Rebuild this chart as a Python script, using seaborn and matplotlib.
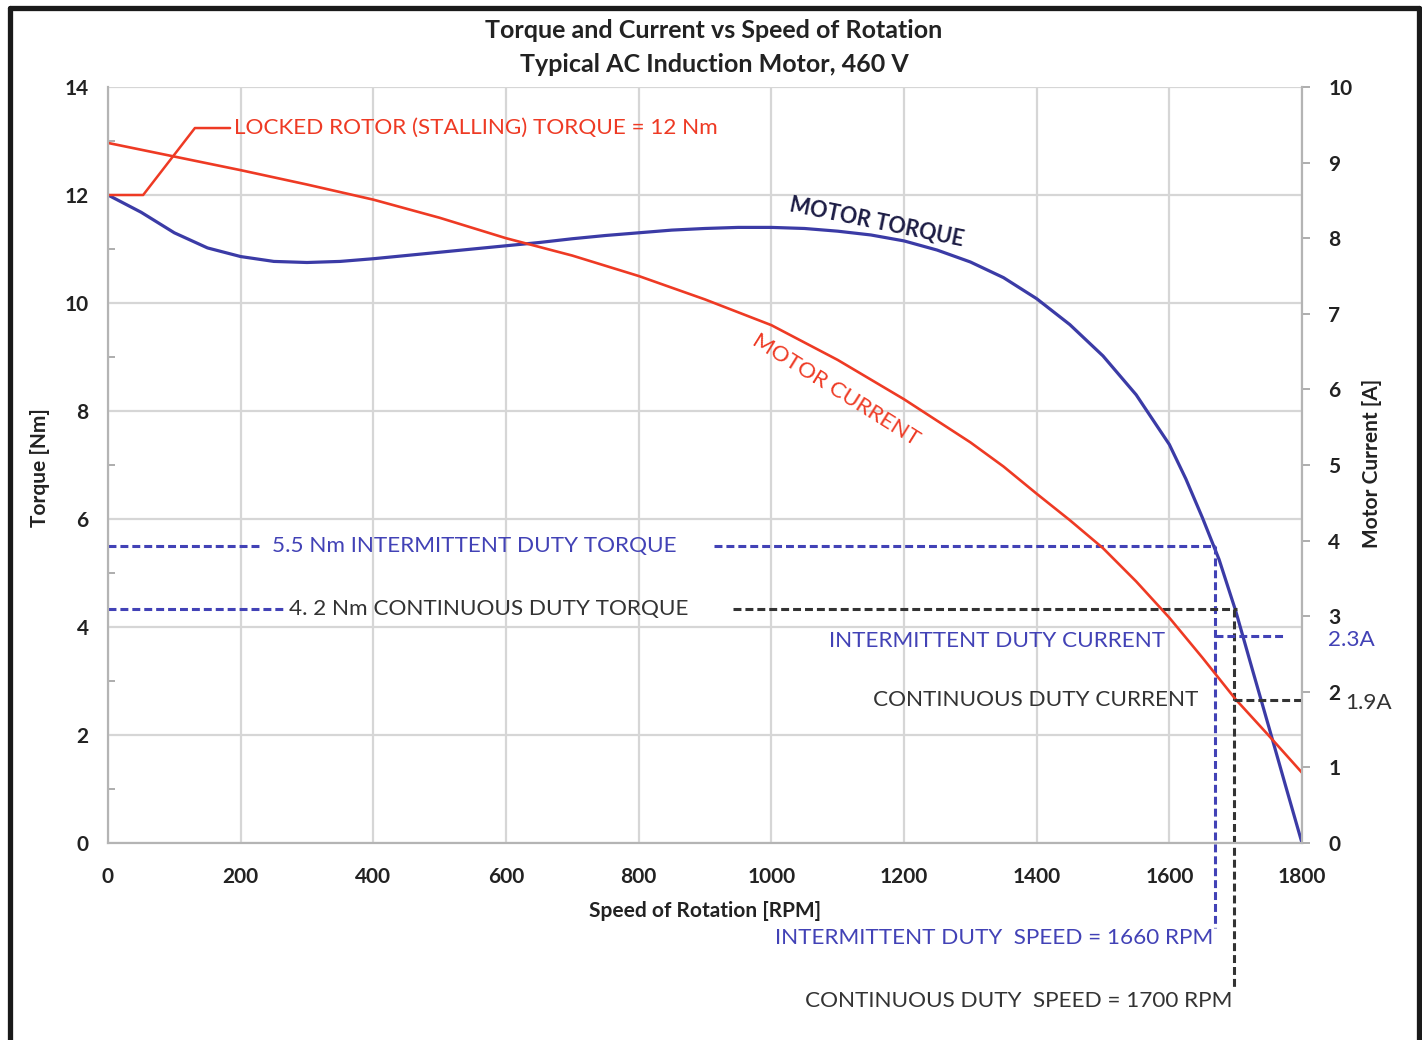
import matplotlib
matplotlib.use('Agg')
import matplotlib.pyplot as plt
import seaborn as sns
from matplotlib.lines import Line2D

# motor torque curve (left axis, Nm)
speed_torque = [0, 50, 100, 150, 200, 250, 300, 350, 400, 450, 500, 550, 600, 650, 700, 750,
                800, 850, 900, 950, 1000, 1050, 1100, 1150, 1200, 1250, 1300, 1350, 1400,
                1450, 1500, 1550, 1600, 1625, 1650, 1675, 1700, 1725, 1750, 1775, 1800]
torque = [12.0, 11.68, 11.3, 11.02, 10.86, 10.77, 10.75, 10.77, 10.82, 10.88, 10.94, 11.0,
          11.06, 11.12, 11.19, 11.25, 11.3, 11.35, 11.38, 11.4, 11.4, 11.38, 11.33, 11.26,
          11.15, 10.98, 10.76, 10.47, 10.08, 9.6, 9.02, 8.3, 7.38, 6.74, 6.02, 5.25, 4.3,
          3.22, 2.15, 1.07, 0.0]

# motor current curve (right axis, A)
speed_current = [0, 100, 200, 300, 400, 500, 600, 700, 800, 900, 1000, 1100, 1200, 1300,
                 1350, 1400, 1450, 1500, 1550, 1600, 1650, 1700, 1750, 1800]
current = [9.26, 9.08, 8.9, 8.71, 8.51, 8.27, 8.0, 7.77, 7.5, 7.19, 6.85, 6.39, 5.87, 5.3,
           4.98, 4.62, 4.27, 3.9, 3.46, 2.98, 2.45, 1.9, 1.42, 0.93]

# duty points
int_torque = 5.5
cont_torque = 4.33
int_speed = 1669
cont_speed = 1697
int_current = 2.74
cont_current = 1.89

x_ticks = list(range(0, 1801, 200))
torque_ticks = list(range(0, 15, 2))
current_ticks = list(range(0, 11))

sns.set_theme(style='white')
plt.rcParams['font.family'] = ['Lato', 'DejaVu Sans']

W, H = 1422, 1040
fig = plt.figure(figsize=(W / 100, H / 100), dpi=100)
fig.patch.set_facecolor('white')
ax = fig.add_axes([108 / W, 1 - 843 / H, (1302 - 108) / W, (843 - 87) / H])
ax2 = ax.twinx()

RED = '#ee3a24'
BLUE = '#3b3ba6'
DBLUE = '#4242b6'
DARK = '#333333'
GRID = '#d6d6d6'
SPINE = '#b4b4b4'

sns.lineplot(x=speed_torque, y=torque, ax=ax, color=BLUE, lw=2.3, sort=False)
sns.lineplot(x=speed_current, y=current, ax=ax2, color=RED, lw=1.9, sort=False)

ax.set_xlim(0, 1800)
ax.set_ylim(0, 14)
ax2.set_ylim(0, 10)
ax.set_xticks(x_ticks)
ax.set_yticks(torque_ticks)
ax.set_xticks(range(0, 1801, 50), minor=True)
ax.set_yticks(range(1, 14, 2), minor=True)
ax2.set_yticks(current_ticks)
ax.grid(True, which='major', color=GRID, lw=1.6)
ax2.grid(False)
ax.set_xlabel('')
ax.set_ylabel('')
ax2.set_ylabel('')

for a in (ax, ax2):
    for s in a.spines.values():
        s.set_color(SPINE)
        s.set_linewidth(1.5)
    a.spines['top'].set_visible(False)

ax.tick_params(axis='x', which='both', direction='in', length=5, width=1.2, color='#a0a0a0')
ax.tick_params(axis='x', which='major', pad=17, labelsize=15, labelcolor='#222222')
ax.tick_params(axis='y', which='minor', direction='in', length=5, width=1.2, color='#a0a0a0')
ax.tick_params(axis='y', which='major', length=0, pad=14, labelsize=15, labelcolor='#222222')
ax2.tick_params(axis='y', which='major', direction='out', length=6, width=1.2, color='#a0a0a0',
                pad=13, labelsize=15, labelcolor='#222222')
for lab in ax.get_xticklabels() + ax.get_yticklabels() + ax2.get_yticklabels():
    lab.set_fontweight('bold')

dash = (0, (2.6, 1.3))
# intermittent torque line with a gap for its label
ax.plot([0, 232], [int_torque] * 2, color=DBLUE, lw=2.2, ls=dash)
ax.plot([914, int_speed], [int_torque] * 2, color=DBLUE, lw=2.2, ls=dash)
ax.plot([int_speed] * 2, [int_torque, -1.57], color=DBLUE, lw=2.2, ls=dash, clip_on=False)
# continuous torque line
ax.plot([0, 268], [cont_torque] * 2, color=DBLUE, lw=2.2, ls=dash)
ax.plot([942, cont_speed + 5], [cont_torque] * 2, color=DARK, lw=2.2, ls=dash)
ax.plot([cont_speed] * 2, [cont_torque, -2.72], color=DARK, lw=2.2, ls=dash, clip_on=False)
# current markers on right axis
ax2.plot([int_speed, 1775], [int_current] * 2, color=DBLUE, lw=2.2, ls=dash)
ax2.plot([cont_speed, 1800], [cont_current] * 2, color=DARK, lw=2.2, ls=dash)

# leader for the locked rotor label
ax.plot([0, 53, 131, 184], [torque[0], torque[0], 13.24, 13.24], color=RED, lw=1.8)


def fpos(x, y):
    return x / W, 1 - y / H


fs = 16.2
fig.text(*fpos(714, 30), 'Torque and Current vs Speed of Rotation', ha='center', va='center',
         fontsize=18, fontweight='bold', color='#222222')
fig.text(*fpos(714, 65), 'Typical AC Induction Motor, 460 V', ha='center', va='center',
         fontsize=18, fontweight='bold', color='#222222')
fig.text(*fpos(705, 911), 'Speed of Rotation [RPM]', ha='center', va='center',
         fontsize=15, fontweight='bold', color='#222222')
fig.text(*fpos(40, 468), 'Torque [Nm]', ha='center', va='center', rotation=90,
         fontsize=15, fontweight='bold', color='#222222')
fig.text(*fpos(1372, 463), 'Motor Current [A]', ha='center', va='center', rotation=90,
         fontsize=15, fontweight='bold', color='#222222')

fig.text(*fpos(234, 128), 'LOCKED ROTOR (STALLING) TORQUE = 12 Nm', ha='left', va='center',
         fontsize=fs, color=RED)
fig.text(*fpos(272, 546), '5.5 Nm INTERMITTENT DUTY TORQUE', ha='left', va='center',
         fontsize=fs, color=DBLUE)
fig.text(*fpos(289, 609), '4. 2 Nm CONTINUOUS DUTY TORQUE', ha='left', va='center',
         fontsize=fs, color=DARK)
fig.text(*fpos(1165, 641), 'INTERMITTENT DUTY CURRENT', ha='right', va='center',
         fontsize=fs, color=DBLUE)
fig.text(*fpos(1198, 700), 'CONTINUOUS DUTY CURRENT', ha='right', va='center',
         fontsize=fs, color=DARK)
fig.text(*fpos(1328, 640), '2.3A', ha='left', va='center', fontsize=fs, color=DBLUE)
fig.text(*fpos(1345, 703), '1.9A', ha='left', va='center', fontsize=fs, color=DARK)
fig.text(*fpos(1213, 938), 'INTERMITTENT DUTY  SPEED = 1660 RPM', ha='right', va='center',
         fontsize=fs, color=DBLUE)
fig.text(*fpos(1232, 1001), 'CONTINUOUS DUTY  SPEED = 1700 RPM', ha='right', va='center',
         fontsize=fs, color=DARK)
fig.text(*fpos(877, 222), 'MOTOR TORQUE', ha='center', va='center', rotation=-11.5,
         rotation_mode='anchor', fontsize=15.5, color='#1c1c44', fontweight='bold')
fig.text(*fpos(836, 390), 'MOTOR CURRENT', ha='center', va='center', rotation=-32,
         rotation_mode='anchor', fontsize=fs, color=RED)

# black frame around the figure
frame = dict(transform=fig.transFigure, color='#1a1a1a', lw=3.8)
fig.add_artist(Line2D([10 / W, 10 / W], [0, 1 - 7.5 / H], **frame))
fig.add_artist(Line2D([10 / W, 1419 / W], [1 - 7.5 / H, 1 - 7.5 / H], **frame))
fig.add_artist(Line2D([1419 / W, 1419 / W], [1 - 7.5 / H, 0], **frame))

fig.savefig('out.png', dpi=100, facecolor='white')
